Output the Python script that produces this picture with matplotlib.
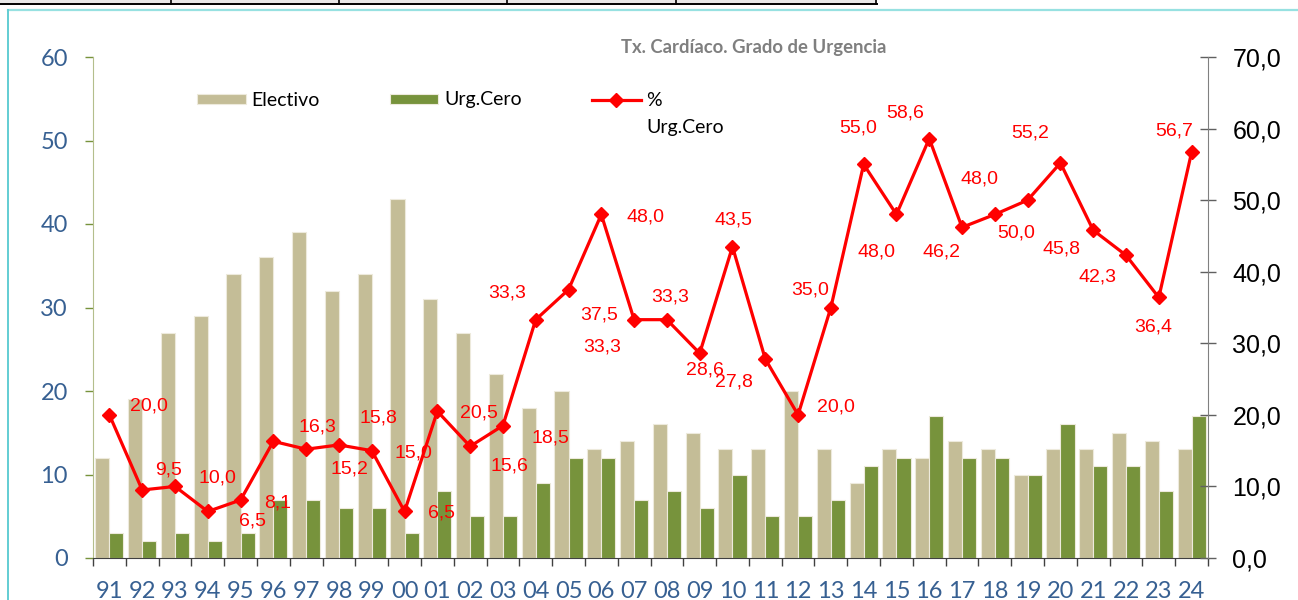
import matplotlib.pyplot as plt
import numpy as np
from matplotlib.lines import Line2D
from matplotlib.patches import Rectangle

# ---- Data -------------------------------------------------------------------
years = ['91', '92', '93', '94', '95', '96', '97', '98', '99', '00', '01', '02',
         '03', '04', '05', '06', '07', '08', '09', '10', '11', '12', '13', '14',
         '15', '16', '17', '18', '19', '20', '21', '22', '23', '24']
electivo = [12, 19, 27, 29, 34, 36, 39, 32, 34, 43, 31, 27, 22, 18, 20, 13, 14,
            16, 15, 13, 13, 20, 13, 9, 13, 12, 14, 13, 10, 13, 13, 15, 14, 13]
urg_cero = [3, 2, 3, 2, 3, 7, 7, 6, 6, 3, 8, 5, 5, 9, 12, 12, 7, 8, 6, 10, 5, 5,
            7, 11, 12, 17, 12, 12, 10, 16, 11, 11, 8, 17]
pct_urg = [20.0, 9.5, 10.0, 6.5, 8.1, 16.3, 15.2, 15.8, 15.0, 6.5, 20.5, 15.6,
           18.5, 33.3, 37.5, 48.0, 33.3, 33.3, 28.6, 43.5, 27.8, 20.0, 35.0,
           55.0, 48.0, 58.6, 46.2, 48.0, 50.0, 55.2, 45.8, 42.3, 36.4, 56.7]

# label offsets (pixels, x right / y down) mimicking the Excel placement
lbl_dx = [40, 26, 42, 45, 37, 44, 43, 39, 42, 37, 42, 39, 48, -29, 31, 44, -32,
          3, 5, 1, -31, 38, -21, -5, -20, -24, -21, -15, -11, -30, -32, -29, -6, -17]
lbl_dy = [-9, -20, -8, 10, 3, -14, 20, -27, 2, 2, 2, 20, 12, -27, 25, 3, 27,
          -23, 17, -27, 23, -8, -18, -36, 38, -26, 25, -35, 33, -30, 19, 22, 30, -21]

C_ELEC = '#C4BD97'
C_URG = '#77933C'
C_BLUE = '#376092'
CAL = ['Lato', 'DejaVu Sans']
ARI = ['Liberation Sans', 'DejaVu Sans']

W, H = 1298, 600
fig = plt.figure(figsize=(W / 100, H / 100), dpi=100)
ax = fig.add_axes([93 / W, 1 - 558 / H, (1208 - 93) / W, (558 - 57) / H])

x = np.arange(len(years))
bw = 0.43
ax.bar(x - bw / 2, electivo, bw, color=C_ELEC, edgecolor='#EDEADC', lw=0.8,
       label='Electivo', zorder=2)
ax.bar(x + bw / 2, urg_cero, bw, color=C_URG, edgecolor='#EDEADC', lw=0.8,
       label='Urg.Cero', zorder=2)

ax.set_xlim(-0.5, len(years) - 0.5)
ax.set_ylim(0, 60)
ax.set_yticks(range(0, 61, 10))
ax.set_xticks(np.arange(len(years) + 1) - 0.5)
ax.set_xticklabels([])
ax.set_xticks(x, minor=True)
ax.set_xticklabels(years, minor=True, fontfamily=CAL, fontsize=17, color=C_BLUE)
ax.tick_params(axis='x', which='major', direction='out', length=6, width=1,
               color='#404040')
ax.tick_params(axis='x', which='minor', length=0, pad=16.5)
ax.tick_params(axis='y', direction='out', length=6, width=1, color=C_URG,
               pad=12, labelcolor=C_BLUE, labelsize=17)
for t in ax.get_yticklabels():
    t.set_fontfamily(CAL)
ax.spines['top'].set_visible(False)
ax.spines['right'].set_visible(False)
ax.spines['left'].set_color('#B4BE8C')
ax.spines['bottom'].set_color('#404040')

# ---- % Urg.Cero line on right axis -------------------------------------------
ax2 = ax.twinx()
ax2.set_ylim(0, 70)
ax2.set_yticks(range(0, 71, 10))
ax2.set_yticklabels([f'{v:.1f}'.replace('.', ',') for v in range(0, 71, 10)],
                    fontfamily=ARI, fontsize=18, color='black')
ax2.tick_params(axis='y', direction='inout', length=11, width=1, color='#606060',
                pad=12)
for s in ['top', 'left', 'bottom']:
    ax2.spines[s].set_visible(False)
ax2.spines['right'].set_color('#808080')
ax2.plot(x, pct_urg, color='red', lw=2.3, marker='D', ms=7.5, mec='red',
         mfc='red', label='%', zorder=3)
for xi, v, dx, dy in zip(x, pct_urg, lbl_dx, lbl_dy):
    ax2.annotate(f'{v:.1f}'.replace('.', ','), (xi, v), xytext=(dx, -dy),
                 textcoords='offset pixels', ha='center', va='center',
                 color='red', fontsize=14, fontfamily=ARI, annotation_clip=False)

# ---- Legend & title -----------------------------------------------------------
h1, l1 = ax.get_legend_handles_labels()
h2, l2 = ax2.get_legend_handles_labels()
leg = ax2.legend(h1 + h2, l1 + l2, loc='center left', bbox_to_anchor=(197 / W, 1 - 100 / H),
                 bbox_transform=fig.transFigure, ncol=3, frameon=False, borderpad=0,
                 borderaxespad=0, handlelength=2.5, handleheight=0.42,
                 handletextpad=0.3, columnspacing=3.6,
                 prop={'family': CAL, 'size': 14})
fig.canvas.draw()
bb = leg.get_texts()[2].get_window_extent()
fig.text(bb.x0 / W, 1 - 127 / H, 'Urg.Cero', fontfamily=CAL, fontsize=14,
         va='center', ha='left')

fig.text(754 / W, 1 - 47 / H, 'Tx. Cardíaco. Grado de Urgencia', ha='center',
         va='center', fontfamily=CAL, fontsize=13.3, fontweight='bold', color='#7F7F7F')

# ---- Frame decorations (sheet border, table above) ---------------------------
fig.add_artist(Line2D([7.5 / W, 1], [1 - 10 / H] * 2, color='#97E1E1', lw=1.6))
fig.add_artist(Line2D([7.5 / W] * 2, [0, 1 - 10 / H], color='#62CDD3', lw=1.4))
fig.add_artist(Rectangle((0, 1 - 4 / H), 877 / W, 4 / H, color='#E8E8E8', lw=0))
fig.add_artist(Line2D([0, 877 / W], [1 - 4 / H] * 2, color='black', lw=1.4))
for px in [171, 339, 507, 676, 876]:
    fig.add_artist(Line2D([px / W] * 2, [1 - 4 / H, 1], color='black', lw=1.2))

fig.savefig('out.png', dpi=100)
